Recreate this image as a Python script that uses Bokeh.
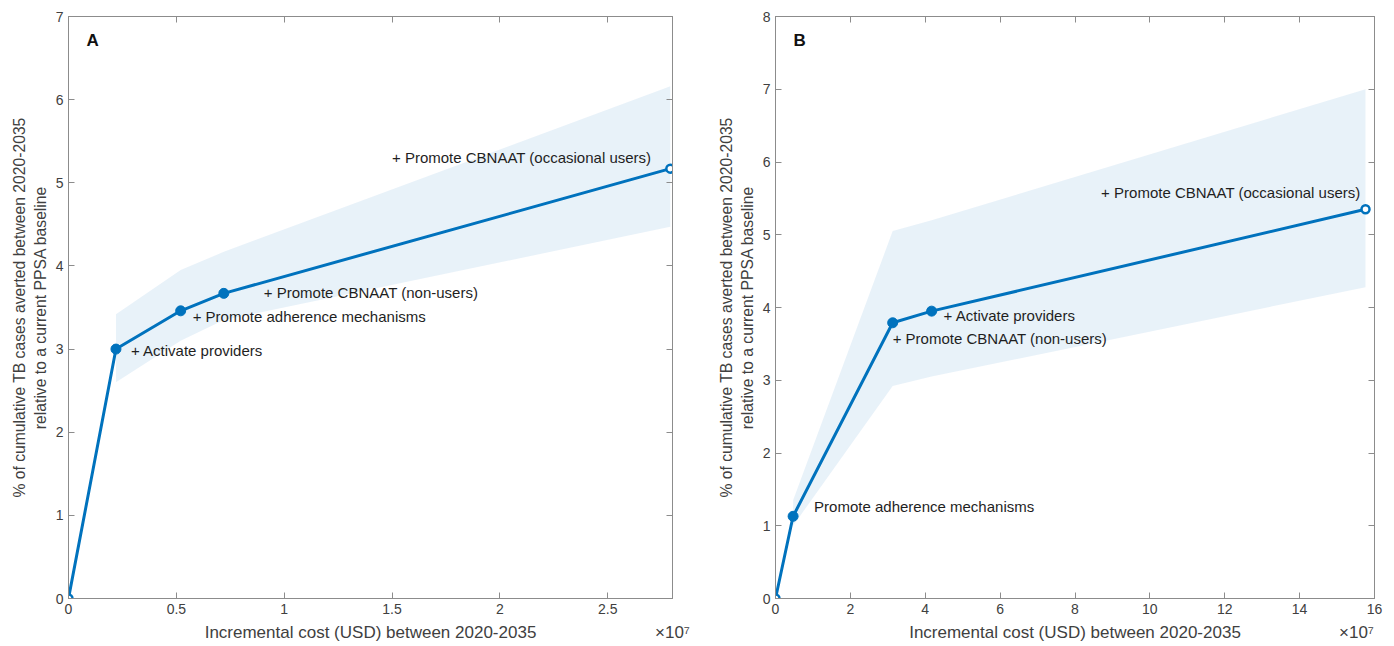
from bokeh.plotting import figure
from bokeh.layouts import row
from bokeh.models import (LinearAxis, FixedTicker, CustomJSTickFormatter, Range1d,
                          Label, ColumnDataSource)
from bokeh.core.properties import value
from bokeh.embed import file_html
from bokeh.resources import INLINE

# ---------------- data ----------------
# Panel A
a_cost = [0, 2.2e6, 5.2e6, 7.2e6, 2.79e7]
a_averted = [0, 3.00, 3.46, 3.67, 5.17]
a_band_cost = [2.2e6, 5.2e6, 7.2e6, 2.79e7]
a_upper = [3.42, 3.95, 4.17, 6.16]
a_lower = [2.60, 3.10, 3.35, 4.47]
a_labels = ["+ Activate providers", "+ Promote adherence mechanisms",
            "+ Promote CBNAAT (non-users)", "+ Promote CBNAAT (occasional users)"]
a_xticks = [0, 0.5e7, 1.0e7, 1.5e7, 2.0e7, 2.5e7]
a_yticks = [0, 1, 2, 3, 4, 5, 6, 7]

# Panel B
b_cost = [0, 0.47e7, 3.13e7, 4.17e7, 15.76e7]
b_averted = [0, 1.13, 3.79, 3.95, 5.35]
b_band_cost = [0.47e7, 3.13e7, 4.17e7, 15.76e7]
b_upper = [1.35, 5.05, 5.20, 7.00]
b_lower = [1.00, 2.92, 3.05, 4.28]
b_labels = ["Promote adherence mechanisms", "+ Promote CBNAAT (non-users)",
            "+ Activate providers", "+ Promote CBNAAT (occasional users)"]
b_xticks = [0, 2e7, 4e7, 6e7, 8e7, 10e7, 12e7, 14e7, 16e7]
b_yticks = [0, 1, 2, 3, 4, 5, 6, 7, 8]

x_label = "Incremental cost (USD) between 2020-2035"
x_exponent = "\u00d710\u2077"
y_label = "% of cumulative TB cases averted between 2020-2035\nrelative to a current PPSA baseline"

# ---------------- style ----------------
FONT = "Liberation Sans"
BLUE = "#0072BD"
AX = "#8c8c8c"
TXT = "#404040"

# label placement: (point index, x offset px, y offset px, align)
a_place = [(1, 15, 1, "left"), (2, 12, 6, "left"), (3, 40, -1, "left"), (4, -19, -11, "right")]
b_place = [(1, 21, -10, "left"), (2, 0, 16, "left"), (3, 12, 4, "left"), (4, -5, -17, "right")]


def make_panel(cost, averted, band_cost, upper, lower, labels, place,
               xticks, yticks, xmax, ymax, letter, width, border_left, border_right,
               exp_frac):
    p = figure(width=width, height=646, output_backend="svg", toolbar_location=None,
               x_range=Range1d(0, xmax), y_range=Range1d(0, ymax),
               min_border_left=border_left, min_border_right=border_right,
               min_border_top=16, min_border_bottom=48,
               background_fill_color="white", border_fill_color="white")
    p.outline_line_color = AX
    p.grid.visible = False

    fmt_x = CustomJSTickFormatter(code="return String(Number((tick/1e7).toFixed(2)));")
    blank = CustomJSTickFormatter(code="return '';")

    for ax in p.xaxis:
        ax.ticker = FixedTicker(ticks=xticks)
        ax.formatter = fmt_x
    for ax in p.yaxis:
        ax.ticker = FixedTicker(ticks=yticks)
        ax.axis_label = y_label
    for ax in list(p.xaxis) + list(p.yaxis):
        ax.axis_line_color = AX
        ax.major_tick_line_color = AX
        ax.major_tick_in = 6
        ax.major_tick_out = 0
        ax.minor_tick_line_color = None
        ax.major_label_text_font = FONT
        ax.major_label_text_font_size = "14px"
        ax.major_label_text_color = TXT
        ax.major_label_standoff = 5
        ax.axis_label_text_font = FONT
        ax.axis_label_text_font_size = "15.7px"
        ax.axis_label_text_font_style = "normal"
        ax.axis_label_text_color = TXT
        ax.axis_label_standoff = 4

    # x-axis title row: axis title centred, "x10^7" exponent at the right end
    title_fmt = CustomJSTickFormatter(args=dict(lab=x_label, ex=x_exponent),
                                      code="return index == 0 ? lab : ex;")
    xtitle = LinearAxis(ticker=FixedTicker(ticks=[xmax / 2, xmax * exp_frac]),
                        formatter=title_fmt)
    xtitle.axis_line_color = None
    xtitle.major_tick_line_color = None
    xtitle.major_tick_in = 0
    xtitle.major_tick_out = 0
    xtitle.minor_tick_line_color = None
    xtitle.major_label_standoff = 6
    xtitle.major_label_text_font = FONT
    xtitle.major_label_text_font_size = "17px"
    xtitle.major_label_text_color = TXT
    p.add_layout(xtitle, "below")

    top = LinearAxis(ticker=FixedTicker(ticks=xticks), formatter=blank)
    right = LinearAxis(ticker=FixedTicker(ticks=yticks), formatter=blank)
    for ax in (top, right):
        ax.axis_line_color = AX
        ax.major_tick_line_color = AX
        ax.major_tick_in = 6
        ax.major_tick_out = 0
        ax.minor_tick_line_color = None
        ax.major_label_standoff = 0
        ax.major_label_text_font_size = "1px"
    p.add_layout(top, "above")
    p.add_layout(right, "right")

    # uncertainty band
    p.varea(x=band_cost, y1=lower, y2=upper, fill_color=BLUE, fill_alpha=0.09)

    # line + markers
    p.line(cost, averted, line_color=BLUE, line_width=3)
    p.scatter(cost[1:-1], averted[1:-1], size=10, fill_color=BLUE, line_color=BLUE)
    p.scatter([cost[0], cost[-1]], [averted[0], averted[-1]], size=8,
              fill_color="white", line_color=BLUE, line_width=2.5)

    # annotations
    for align in ("left", "right"):
        sel = [(i, pl) for i, pl in enumerate(place) if pl[3] == align]
        if not sel:
            continue
        src = ColumnDataSource(dict(
            x=[cost[pl[0]] for _, pl in sel],
            y=[averted[pl[0]] for _, pl in sel],
            t=[labels[i] for i, _ in sel],
            xo=[pl[1] for _, pl in sel],
            yo=[pl[2] for _, pl in sel],
        ))
        p.text(x="x", y="y", text="t", x_offset="xo", y_offset="yo", source=src,
               text_font=value(FONT), text_font_size="15px", text_color="#1f1f1f",
               text_align=align, text_baseline="middle")

    p.add_layout(Label(x=0, y=ymax, x_offset=18, y_offset=-14, text=letter,
                       text_font=FONT, text_font_size="17px", text_font_style="bold",
                       text_color="#111111", text_baseline="top"))
    return p


pa = make_panel(a_cost, a_averted, a_band_cost, a_upper, a_lower, a_labels, a_place,
                a_xticks, a_yticks, 2.8e7, 7, "A", 705, 68, 33, 1.0)
pb = make_panel(b_cost, b_averted, b_band_cost, b_upper, b_lower, b_labels, b_place,
                b_xticks, b_yticks, 16e7, 8, "B", 681, 70, 12, 0.97)

layout = row(pa, pb)
open("out.html", "w").write(file_html(layout, INLINE))
